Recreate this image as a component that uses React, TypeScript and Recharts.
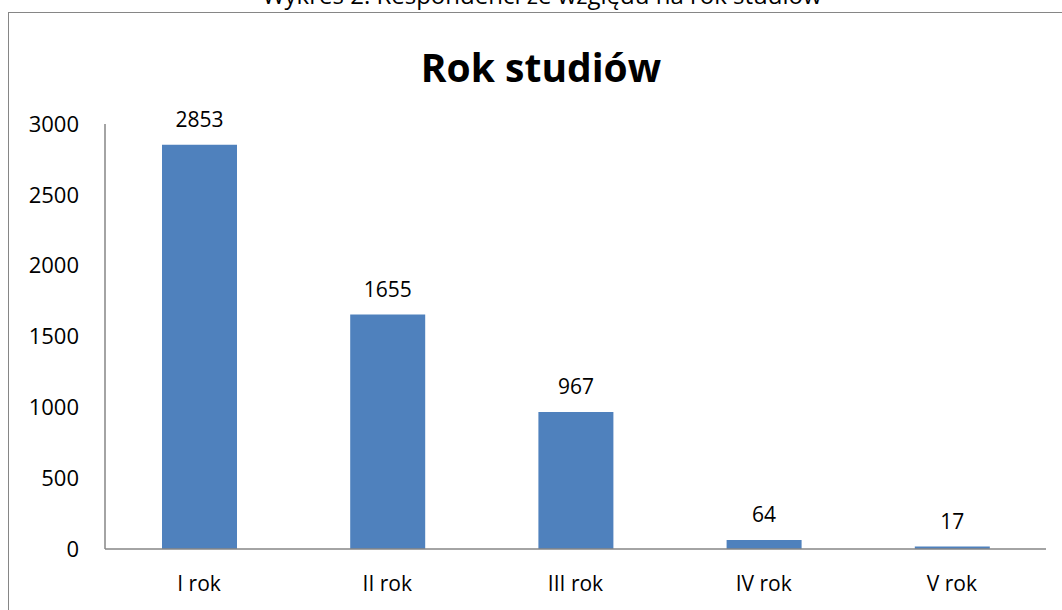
import { Bar, BarChart, LabelList, XAxis, YAxis } from 'recharts';

const CATEGORIES = ['I rok', 'II rok', 'III rok', 'IV rok', 'V rok'];
const VALUES = [2853, 1655, 967, 64, 17];
const Y_TICKS = [0, 500, 1000, 1500, 2000, 2500, 3000];

const DATA = CATEGORIES.map((name, i) => ({ name, value: VALUES[i] }));

const FONT = '"Open Sans", sans-serif';

export default function App() {
    return (
        <div style={{ position: 'absolute', top: 0, left: 0, width: 1062, height: 610, overflow: 'hidden', background: '#fff', fontFamily: FONT }}>
            <div style={{ position: 'absolute', top: -20, left: 0, width: 1084, textAlign: 'center', fontSize: 24, lineHeight: '30px', color: '#000' }}>
                Wykres 2. Respondenci ze względu na rok studiów
            </div>
            <div style={{ position: 'absolute', top: 12, left: 8, width: 1100, height: 640, border: '1.5px solid #868686' }} />
            <div style={{ position: 'absolute', top: 40, left: 0, width: 1082, textAlign: 'center', fontSize: 39, fontWeight: 700, color: '#000' }}>
                Rok studiów
            </div>
            <div style={{ position: 'absolute', top: 0, left: 0 }}>
                <BarChart width={1062} height={610} data={DATA} margin={{ top: 124, right: 16, bottom: 0, left: 0 }}>
                    <XAxis
                        dataKey="name"
                        height={61}
                        axisLine={{ stroke: '#868686', strokeWidth: 1.5 }}
                        tickLine={false}
                        tickSize={0}
                        tickMargin={27}
                        tick={{ fill: '#000', fontSize: 21, fontFamily: FONT }}
                        interval={0}
                    />
                    <YAxis
                        width={105}
                        domain={[0, 3000]}
                        ticks={Y_TICKS}
                        axisLine={{ stroke: '#868686', strokeWidth: 1.5 }}
                        tickLine={false}
                        tickSize={0}
                        tickMargin={26}
                        tick={{ fill: '#000', fontSize: 22, fontFamily: FONT }}
                        allowDataOverflow
                    />
                    <Bar dataKey="value" fill="#4F81BD" barSize={75} isAnimationActive={false}>
                        <LabelList dataKey="value" position="top" offset={18} fill="#000" fontSize={21} fontFamily={FONT} />
                    </Bar>
                </BarChart>
            </div>
        </div>
    );
}
